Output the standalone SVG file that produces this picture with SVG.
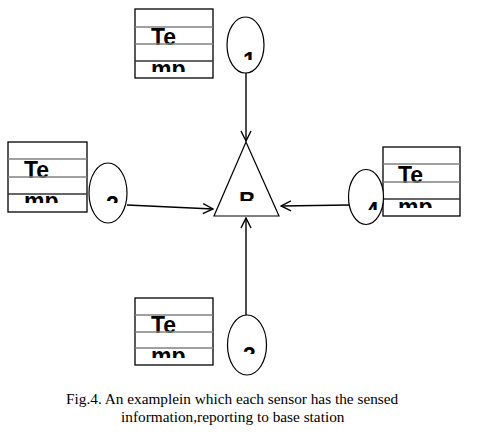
<svg xmlns="http://www.w3.org/2000/svg" width="480" height="434" viewBox="0 0 480 434">
<style>
.tb{fill:#fff;stroke:#000;stroke-width:1.3}
.g{stroke:#808080;stroke-width:1.3}
.d{stroke:#333;stroke-width:1.3}
.t{font-family:"Liberation Sans",Arial,sans-serif;font-weight:bold;font-size:23px;fill:#000}
.el{fill:#fff;stroke:#000;stroke-width:1.2}
.c{stroke:#000;stroke-width:1.4;fill:none}
.cap{font-family:"Liberation Serif","Times New Roman",serif;font-size:15.3px;fill:#000}
</style>
<defs>
<marker id="ar" viewBox="0 0 12 12" refX="11" refY="6" markerWidth="12" markerHeight="12" markerUnits="userSpaceOnUse" orient="auto">
<path d="M1,1 L11,6 L1,11" fill="none" stroke="#000" stroke-width="1.4"/>
</marker>
<clipPath id="c1"><rect x="135" y="9" width="78" height="63"/></clipPath>
<clipPath id="c2"><rect x="8" y="142" width="79" height="61"/></clipPath>
<clipPath id="c3"><rect x="135" y="298" width="78" height="60"/></clipPath>
<clipPath id="c4"><rect x="383" y="147" width="77" height="61"/></clipPath>
<clipPath id="e1"><rect x="227" y="17" width="38" height="43"/></clipPath>
<clipPath id="e2"><rect x="89" y="163" width="38" height="40"/></clipPath>
<clipPath id="e3"><rect x="227" y="315" width="40" height="39"/></clipPath>
<clipPath id="e4"><rect x="348" y="170" width="36" height="40"/></clipPath>
<clipPath id="eb"><rect x="214" y="142" width="66" height="59"/></clipPath>
</defs>
<g id="table1">
<rect class="tb" x="135" y="9" width="78" height="69"/>
<g clip-path="url(#c1)"><text class="t" x="151" y="45">Te</text><text class="t" x="151" y="77">mp</text></g>
<line class="g" x1="135" y1="27" x2="213" y2="27"/><line class="g" x1="135" y1="44" x2="213" y2="44"/><line class="d" x1="135" y1="61" x2="213" y2="61"/>
</g>
<g id="table2">
<rect class="tb" x="8" y="142" width="79" height="70"/>
<g clip-path="url(#c2)"><text class="t" x="24" y="178">Te</text><text class="t" x="24" y="209">mp</text></g>
<line class="g" x1="8" y1="159" x2="87" y2="159"/><line class="g" x1="8" y1="177" x2="87" y2="177"/><line class="d" x1="8" y1="194" x2="87" y2="194"/>
</g>
<g id="table3">
<rect class="tb" x="135" y="298" width="78" height="67"/>
<g clip-path="url(#c3)"><text class="t" x="151" y="333">Te</text><text class="t" x="151" y="364">mp</text></g>
<line class="g" x1="135" y1="315" x2="213" y2="315"/><line class="g" x1="135" y1="332" x2="213" y2="332"/><line class="g" x1="135" y1="348" x2="213" y2="348"/>
</g>
<g id="table4">
<rect class="tb" x="383" y="147" width="77" height="69"/>
<g clip-path="url(#c4)"><text class="t" x="398" y="183">Te</text><text class="t" x="398" y="215">mp</text></g>
<line class="g" x1="383" y1="164" x2="460" y2="164"/><line class="g" x1="383" y1="182" x2="460" y2="182"/><line class="d" x1="383" y1="199" x2="460" y2="199"/>
</g>
<g id="sensor1">
<ellipse class="el" cx="245.5" cy="45" rx="18.5" ry="28"/>
<g clip-path="url(#e1)"><text class="t" x="243" y="69">1</text></g>
</g>
<g id="sensor2">
<ellipse class="el" cx="108" cy="193" rx="19" ry="30"/>
<g clip-path="url(#e2)"><text class="t" x="106" y="213">2</text></g>
</g>
<g id="sensor3">
<ellipse class="el" cx="247" cy="345" rx="19.5" ry="30"/>
<g clip-path="url(#e3)"><text class="t" x="243" y="364">3</text></g>
</g>
<g id="sensor4">
<ellipse class="el" cx="366" cy="197" rx="17.5" ry="27.5"/>
<g clip-path="url(#e4)"><text class="t" x="366" y="219">4</text></g>
</g>
<g id="base">
<polygon class="el" points="246,142 214,216 279,216"/>
<g clip-path="url(#eb)"><text class="t" x="239" y="209">B</text></g>
</g>
<g id="connectors">
<line class="c" x1="246" y1="73" x2="246" y2="141" marker-end="url(#ar)"/>
<line class="c" x1="127" y1="205" x2="213" y2="209" marker-end="url(#ar)"/>
<line class="c" x1="349" y1="205" x2="281" y2="206" marker-end="url(#ar)"/>
<line class="c" x1="246" y1="315" x2="246" y2="218" marker-end="url(#ar)"/>
</g>
<text class="cap" x="66" y="404">Fig.4. An examplein which each sensor has the sensed</text>
<text class="cap" x="121" y="422">information,reporting to base station</text>
</svg>
